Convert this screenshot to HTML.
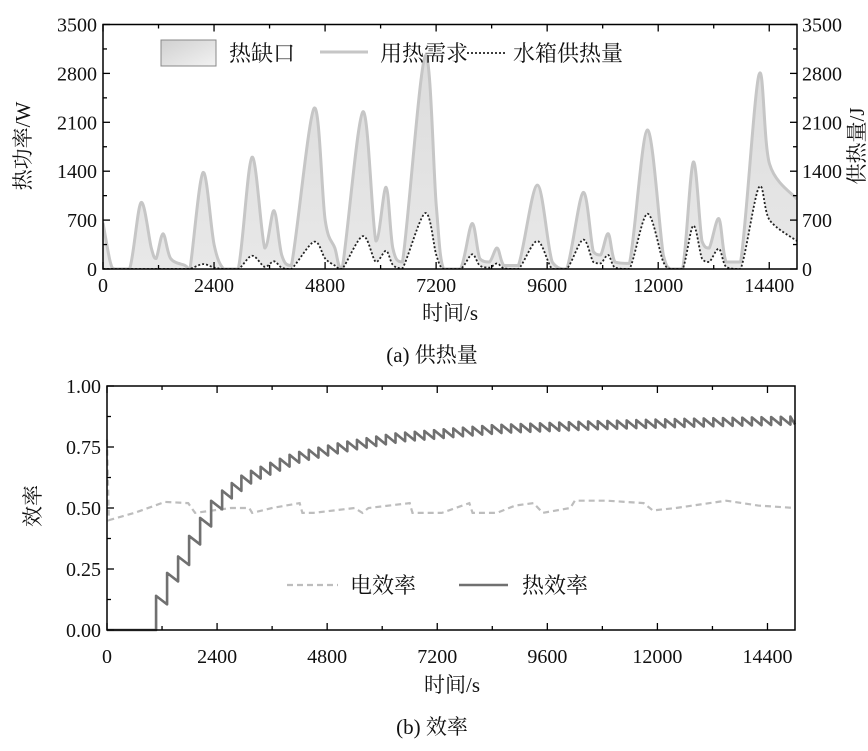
<!DOCTYPE html>
<html><head><meta charset="utf-8">
<style>
body{margin:0;background:#fff;}
svg text{font-family:"Liberation Serif","Noto Serif CJK SC","Noto Sans CJK SC",serif;fill:#111;}
</style></head>
<body>
<svg id="c" width="868" height="746" viewBox="0 0 868 746" xmlns="http://www.w3.org/2000/svg">
<defs>
<linearGradient id="g" x1="0" y1="0" x2="0" y2="1"><stop offset="0" stop-color="#dcdcdc"/><stop offset="1" stop-color="#e8e8e8"/></linearGradient>
<linearGradient id="lg" x1="0" y1="0" x2="1" y2="1"><stop offset="0" stop-color="#d0d0d0"/><stop offset="1" stop-color="#f2f2f2"/></linearGradient>
<clipPath id="cp1"><rect x="103" y="24.5" width="694" height="244.5"/></clipPath>
</defs>
<g id="top"></g>
<g id="bot"></g>
</svg>
<script>
const heatTimes=[0,157,261,574,822,1044,1148,1297,1462,1775,1879,2161,2401,2610,2923,3221,3497,3696,3863,4072,4562,4802,5011,5168,5617,5899,6118,6264,6473,6964,7204,7360,7726,7976,8143,8352,8519,8665,8978,9386,9709,10022,10377,10597,10757,10920,11066,11379,11766,12110,12266,12528,12758,12946,13102,13311,13468,13781,14178,14408,15000];
const demandW=[660,100,0,0,950,300,150,505,150,50,0,1380,350,0,0,1600,300,835,200,50,2300,700,300,0,2250,400,1170,300,100,3050,900,0,0,650,150,100,300,50,50,1200,100,0,1095,250,200,505,100,80,1990,200,0,0,1530,400,300,720,100,100,2780,1500,1000];
const tankSupplyJ=[0,0,0,0,0,0,0,0,0,0,0,70,20,0,0,190,30,110,20,0,390,150,50,0,470,100,260,60,10,800,200,0,0,210,50,20,80,10,0,400,0,0,420,100,80,200,20,0,790,100,0,0,620,150,100,290,30,0,1170,700,400];
const xTicks=[0,2400,4800,7200,9600,12000,14400];
const yTicksTop=[0,700,1400,2100,2800,3500];
const elecTimes=[0,40,600,1265,1770,1920,2700,3100,3165,3600,4200,4260,4500,5400,5570,5700,6600,6660,7300,7900,7970,8500,8900,9300,9500,10100,10200,10900,11700,11900,12400,13500,14200,15000];
const elecEff=[0.78,0.45,0.48,0.525,0.52,0.48,0.5,0.5,0.48,0.5,0.52,0.48,0.48,0.5,0.48,0.5,0.52,0.48,0.48,0.52,0.48,0.48,0.51,0.52,0.48,0.5,0.53,0.53,0.52,0.49,0.5,0.53,0.51,0.5];
const thermTimes=[1070,1325,1600,1770,1950,2100,2330,2980,4070,5160,6250,8430,10500,12500,15000];
const thermEff=[0.14,0.24,0.315,0.38,0.43,0.485,0.545,0.64,0.725,0.77,0.805,0.84,0.855,0.865,0.875];
const yTicksBot=[0,0.25,0.5,0.75,1.0];

const NS="http://www.w3.org/2000/svg";
function mk(p,tag,at,txt){const e=document.createElementNS(NS,tag);for(const k in at)e.setAttribute(k,at[k]);if(txt!==undefined)e.textContent=txt;p.appendChild(e);return e;}
function interp(ts,vs,t){if(t<=ts[0])return vs[0];for(let i=1;i<ts.length;i++){if(t<=ts[i]){const f=(t-ts[i-1])/(ts[i]-ts[i-1]);return vs[i-1]+f*(vs[i]-vs[i-1]);}}return vs[vs.length-1];}
function smooth(P,first){let d=first?'M'+P[0][0]+','+P[0][1]:'L'+P[0][0]+','+P[0][1];
 for(let i=0;i<P.length-1;i++){const p0=P[i-1]||P[i],p1=P[i],p2=P[i+1],p3=P[i+2]||p2;const k=0.16;
  let c1y=p1[1]+(p2[1]-p0[1])*k,c2y=p2[1]-(p3[1]-p1[1])*k;
  const lo=Math.max(p1[1],p2[1]);c1y=Math.min(c1y,lo);c2y=Math.min(c2y,lo);
  d+=' C'+(p1[0]+(p2[0]-p0[0])*k)+','+c1y+' '+(p2[0]-(p3[0]-p1[0])*k)+','+c2y+' '+p2[0]+','+p2[1];}
 return d;}

// ---------- top chart
const T=document.getElementById('top');
const L1=103,R1=797,TP1=24.5,B1=269;
const x1=t=>L1+t/15000*(R1-L1);
const y1=v=>B1-v/3500*(B1-TP1);
let pd=heatTimes.map((t,i)=>[x1(t),y1(demandW[i])]);
let ps=heatTimes.map((t,i)=>[x1(t),y1(tankSupplyJ[i])]);
const G=mk(T,'g',{'clip-path':'url(#cp1)'});
let area=mk(G,'path',{d:smooth(pd,true)+' '+smooth(ps.slice().reverse(),false)+' Z',fill:'url(#g)'});


let dl=mk(G,'path',{d:smooth(pd,true),fill:'none',stroke:'#c6c6c6','stroke-width':3,'stroke-linejoin':'round'});


let sl=mk(G,'path',{d:smooth(ps,true),fill:'none',stroke:'#222','stroke-width':1.8,'stroke-dasharray':'2 2'});


mk(T,'rect',{x:L1,y:TP1,width:R1-L1,height:B1-TP1,fill:'none',stroke:'#000','stroke-width':1.5});
for(let t=0;t<=15000;t+=1200){const big=t%2400==0;mk(T,'line',{x1:x1(t),x2:x1(t),y1:B1,y2:B1-(big?7:4),stroke:'#000','stroke-width':1.3});mk(T,'line',{x1:x1(t),x2:x1(t),y1:TP1,y2:TP1+(big?7:4),stroke:'#000','stroke-width':1.3});}
for(let v=0;v<=3500;v+=350){const big=v%700==0;mk(T,'line',{x1:L1,x2:L1+(big?7:4),y1:y1(v),y2:y1(v),stroke:'#000','stroke-width':1.3});mk(T,'line',{x1:R1,x2:R1-(big?7:4),y1:y1(v),y2:y1(v),stroke:'#000','stroke-width':1.3});}
xTicks.forEach(t=>{let e=mk(T,'text',{x:x1(t),y:292,'font-size':20,'text-anchor':'middle'},t);});
yTicksTop.forEach(v=>{let e=mk(T,'text',{x:97,y:y1(v)+7,'font-size':20,'text-anchor':'end'},v);
let f=mk(T,'text',{x:802,y:y1(v)+7,'font-size':20},v);});
let e;
e=mk(T,'text',{x:450,y:320,'font-size':21,'text-anchor':'middle'},'时间/s');
e=mk(T,'text',{x:432,y:362,'font-size':21,'text-anchor':'middle'},'(a) 供热量');
e=mk(T,'text',{x:0,y:0,'font-size':21,'text-anchor':'middle',transform:'translate(30,146) rotate(-90)'},'热功率/W');
e=mk(T,'text',{x:0,y:0,'font-size':21,'text-anchor':'middle',transform:'translate(864,146) rotate(-90)'},'供热量/J');
e=mk(T,'rect',{x:161,y:40,width:55,height:26,fill:'url(#lg)',stroke:'#888','stroke-width':1});
e=mk(T,'text',{x:229,y:61,'font-size':22},'热缺口');
mk(T,'line',{x1:320,x2:368,y1:52,y2:52,stroke:'#c6c6c6','stroke-width':3});
e=mk(T,'text',{x:380,y:61,'font-size':22},'用热需求');
mk(T,'line',{x1:467,x2:506,y1:53,y2:53,stroke:'#222','stroke-width':1.8,'stroke-dasharray':'2 2'});
e=mk(T,'text',{x:513,y:61,'font-size':22},'水箱供热量');

// ---------- bottom chart
const B=document.getElementById('bot');
const L2=107,R2=795,TP2=386,B2=630;
const x2=t=>L2+t/15000*(R2-L2);
const y2=v=>B2-v*(B2-TP2);
let pe=elecTimes.map((t,i)=>x2(t)+','+y2(elecEff[i]));
e=mk(B,'polyline',{points:pe.join(' '),fill:'none',stroke:'#bdbdbd','stroke-width':2.2,'stroke-dasharray':'6 4'});


let pts=[x2(0)+','+y2(0),x2(thermTimes[0])+','+y2(0)];
let t=thermTimes[0];
while(t<15000){
 const per=t<2500?240:210;
 const top=interp(thermTimes,thermEff,t);
 const amp=t<2500?0.035:0.032;
 pts.push(x2(t)+','+y2(top));
 const tn=Math.min(t+per,15000);
 pts.push(x2(tn)+','+y2(top-amp));
 t=tn;
}
e=mk(B,'polyline',{points:pts.join(' '),fill:'none',stroke:'#707070','stroke-width':2.6,'stroke-linejoin':'round'});


mk(B,'rect',{x:L2,y:TP2,width:R2-L2,height:B2-TP2,fill:'none',stroke:'#000','stroke-width':1.5});
for(let tt=0;tt<=15000;tt+=1200){const big=tt%2400==0;mk(B,'line',{x1:x2(tt),x2:x2(tt),y1:B2,y2:B2-(big?7:4),stroke:'#000','stroke-width':1.3});mk(B,'line',{x1:x2(tt),x2:x2(tt),y1:TP2,y2:TP2+(big?7:4),stroke:'#000','stroke-width':1.3});}
for(let v=0;v<=1.0001;v+=0.125){const big=Math.abs(v*4-Math.round(v*4))<1e-6;mk(B,'line',{x1:L2,x2:L2+(big?7:4),y1:y2(v),y2:y2(v),stroke:'#000','stroke-width':1.3});}
xTicks.forEach(tt=>{let q=mk(B,'text',{x:x2(tt),y:663,'font-size':20,'text-anchor':'middle'},tt);});
yTicksBot.forEach(v=>{let q=mk(B,'text',{x:101,y:y2(v)+7,'font-size':20,'text-anchor':'end'},v.toFixed(2));});
e=mk(B,'text',{x:452,y:692,'font-size':21,'text-anchor':'middle'},'时间/s');
e=mk(B,'text',{x:432,y:734,'font-size':21,'text-anchor':'middle'},'(b) 效率');
e=mk(B,'text',{x:0,y:0,'font-size':21,'text-anchor':'middle',transform:'translate(40,506) rotate(-90)'},'效率');
mk(B,'line',{x1:287,x2:338,y1:585,y2:585,stroke:'#bdbdbd','stroke-width':2.2,'stroke-dasharray':'6 4'});
e=mk(B,'text',{x:350,y:593,'font-size':22},'电效率');
mk(B,'line',{x1:459,x2:508,y1:585,y2:585,stroke:'#707070','stroke-width':2.6});
e=mk(B,'text',{x:522,y:593,'font-size':22},'热效率');
</script>
</body></html>
